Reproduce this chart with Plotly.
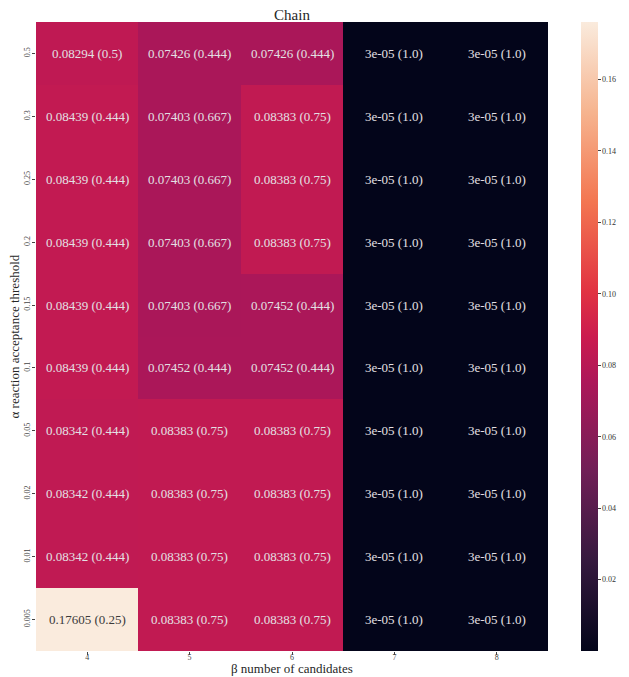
import plotly.graph_objects as go

betas = ["4", "5", "6", "7", "8"]
alphas = ["0.5", "0.3", "0.25", "0.2", "0.15", "0.1", "0.05", "0.02", "0.01", "0.005"]

scores = [
    [0.08294, 0.07426, 0.07426, 3e-05, 3e-05],
    [0.08439, 0.07403, 0.08383, 3e-05, 3e-05],
    [0.08439, 0.07403, 0.08383, 3e-05, 3e-05],
    [0.08439, 0.07403, 0.08383, 3e-05, 3e-05],
    [0.08439, 0.07403, 0.07452, 3e-05, 3e-05],
    [0.08439, 0.07452, 0.07452, 3e-05, 3e-05],
    [0.08342, 0.08383, 0.08383, 3e-05, 3e-05],
    [0.08342, 0.08383, 0.08383, 3e-05, 3e-05],
    [0.08342, 0.08383, 0.08383, 3e-05, 3e-05],
    [0.17605, 0.08383, 0.08383, 3e-05, 3e-05],
]
ratios = [
    ["0.5", "0.444", "0.444", "1.0", "1.0"],
    ["0.444", "0.667", "0.75", "1.0", "1.0"],
    ["0.444", "0.667", "0.75", "1.0", "1.0"],
    ["0.444", "0.667", "0.75", "1.0", "1.0"],
    ["0.444", "0.667", "0.444", "1.0", "1.0"],
    ["0.444", "0.444", "0.444", "1.0", "1.0"],
    ["0.444", "0.75", "0.75", "1.0", "1.0"],
    ["0.444", "0.75", "0.75", "1.0", "1.0"],
    ["0.444", "0.75", "0.75", "1.0", "1.0"],
    ["0.25", "0.75", "0.75", "1.0", "1.0"],
]
cbar_ticks = [0.02, 0.04, 0.06, 0.08, 0.10, 0.12, 0.14, 0.16]

rocket = [
    [0.0, "#03051a"],
    [1/7, "#35193e"],
    [2/7, "#701f57"],
    [3/7, "#ad1759"],
    [0.5, "#cb1b4f"],
    [4/7, "#e13342"],
    [5/7, "#f37651"],
    [6/7, "#f6b48f"],
    [1.0, "#faebdd"],
]

FONT = "Liberation Serif"
zmin = min(min(r) for r in scores)
zmax = max(max(r) for r in scores)

fig = go.Figure(go.Heatmap(
    z=scores, x=betas, y=alphas,
    colorscale=rocket, zmin=zmin, zmax=zmax, xgap=0, ygap=0,
    hoverinfo="skip",
    colorbar=dict(
        x=1.064, xanchor="left", y=0.5, yanchor="middle", len=1.0, lenmode="fraction",
        thickness=17, outlinewidth=0, xpad=0, ypad=0,
        tickvals=cbar_ticks, ticktext=[f"{t:.2f}" for t in cbar_ticks],
        ticks="outside", ticklen=3, tickcolor="#444",
        tickfont=dict(family=FONT, size=8, color="#333"),
    ),
))

def fmt(v):
    if v >= 0.001:
        return f"{v:.5f}".rstrip("0")
    m, e = f"{v:.0e}".split("e")
    return f"{m}e{e}"

annotations = []
for i, a in enumerate(alphas):
    for j, b in enumerate(betas):
        v = scores[i][j]
        txt = f"{fmt(v)} ({ratios[i][j]})"
        color = "#3a3a3a" if (v - zmin) / (zmax - zmin) > 0.6 else "#e4e0e4"
        annotations.append(dict(x=j, y=i, xref="x", yref="y", text=txt, showarrow=False,
                                font=dict(family=FONT, size=13, color=color)))

annotations.append(dict(text="β number of candidates", x=0.5, y=0, xref="paper", yref="paper",
                        xanchor="center", yanchor="middle", yshift=-17, showarrow=False,
                        font=dict(family=FONT, size=13, color="#262626")))
annotations.append(dict(text="α reaction acceptance threshold", x=0, y=0.5, xref="paper", yref="paper",
                        xanchor="center", yanchor="middle", xshift=-22, textangle=-90, showarrow=False,
                        font=dict(family=FONT, size=13, color="#262626")))

W, H = 621, 669
L, T = 28, 14
fig.update_layout(
    width=W, height=H,
    margin=dict(l=L, r=W - L - 512, t=T, b=H - T - 629, autoexpand=False),
    paper_bgcolor="white", plot_bgcolor="white",
    title=dict(text="Chain", x=(L + 256) / W, xanchor="center", y=1 - 7 / H, yanchor="middle",
               font=dict(family=FONT, size=15, color="#262626")),
    annotations=annotations,
    xaxis=dict(
        type="category", automargin=False, ticklabelstandoff=-5,
        tickfont=dict(family=FONT, size=8, color="#444"), ticks="outside", ticklen=3, tickcolor="#444",
        showgrid=False, zeroline=False,
    ),
    yaxis=dict(
        type="category", automargin=False, ticklabelstandoff=-1,
        tickfont=dict(family=FONT, size=8, color="#444"), ticks="outside", ticklen=3, tickcolor="#444",
        tickangle=-90, autorange="reversed", showgrid=False, zeroline=False,
    ),
)

fig.write_html("out.html")
